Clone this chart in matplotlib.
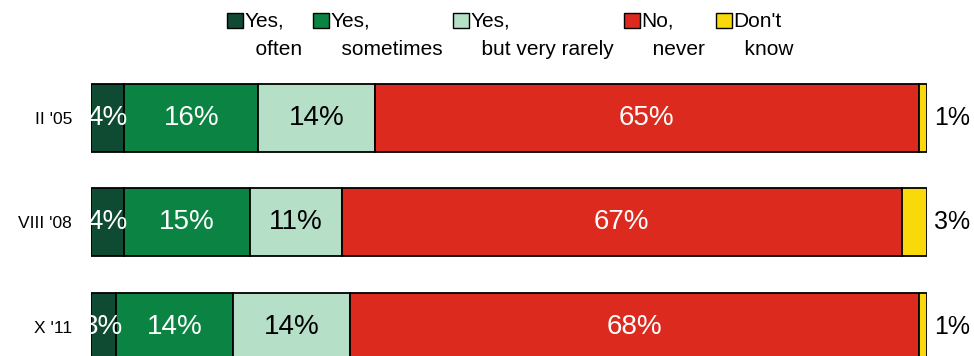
import matplotlib.pyplot as plt
from matplotlib.patches import Rectangle
from matplotlib.container import BarContainer
from matplotlib.legend_handler import HandlerPatch

plt.rcParams['font.family'] = ['Liberation Sans', 'DejaVu Sans']

periods = ["II '05", "VIII '08", "X '11"]
answers = ["Yes,\n  often", "Yes,\n  sometimes", "Yes,\n  but very rarely", "No,\n  never", "Don't\n  know"]
often = [4, 4, 3]
sometimes = [16, 15, 14]
rarely = [14, 11, 14]
never = [65, 67, 68]
dont_know = [1, 3, 1]

series = [often, sometimes, rarely, never, dont_know]
colors = ["#0f4a33", "#0b8443", "#b6dfc8", "#dc2a1e", "#f9d90a"]
text_colors = ["white", "white", "black", "white", None]

fig = plt.figure(figsize=(9.74, 3.56), dpi=100)
ax = fig.add_axes([0.0934, 0.0, 0.8583, 0.8034])

y = list(range(len(periods)))
left = [0, 0, 0]
for vals, col, tc, name in zip(series, colors, text_colors, answers):
    ax.barh(y, vals, left=left, height=0.65, color=col, edgecolor="black",
            linewidth=1.3, label=name)
    for i, v in enumerate(vals):
        if tc is not None:
            ax.text(left[i] + v / 2, y[i], f"{v}%", ha="center", va="center",
                    color=tc, fontsize=20)
        else:
            ax.annotate(f"{v}%", (left[i] + v, y[i]), xytext=(5, 0),
                        textcoords="offset points", ha="left", va="center",
                        fontsize=18, annotation_clip=False)
    left = [l + v for l, v in zip(left, vals)]

ax.set_xlim(0, 100)
ax.set_ylim(2.278, -0.459)
ax.set_yticks(y)
ax.set_yticklabels(periods, fontsize=12.5)
ax.tick_params(axis="y", length=0, pad=13.7)
ax.set_xticks([])
for s in ax.spines.values():
    s.set_visible(False)

fs = 15
ls = 1.65


# legend box sits next to the first line of the label, not the middle
def raised_box(legend, orig_handle, xdescent, ydescent, width, height, fontsize):
    shift = 0.5 * ls * 0.73 * fontsize + 2
    return Rectangle((-xdescent, -ydescent + shift), width, height)


def copy_style(legend_handle, orig_handle):
    legend_handle.update_from(orig_handle.patches[0])
    legend_handle.set_linewidth(1.0)


handles, labels = ax.get_legend_handles_labels()
leg = fig.legend(handles, labels, loc="upper center", bbox_to_anchor=(0.524, 1.02),
                 ncol=5, frameon=False, fontsize=fs, handlelength=0.77, handleheight=0.77,
                 handletextpad=0.05, columnspacing=0.5,
                 handler_map={BarContainer: HandlerPatch(patch_func=raised_box,
                                                         update_func=copy_style)})
for t in leg.get_texts():
    t.set_linespacing(ls)

fig.savefig("out.png", dpi=100)
